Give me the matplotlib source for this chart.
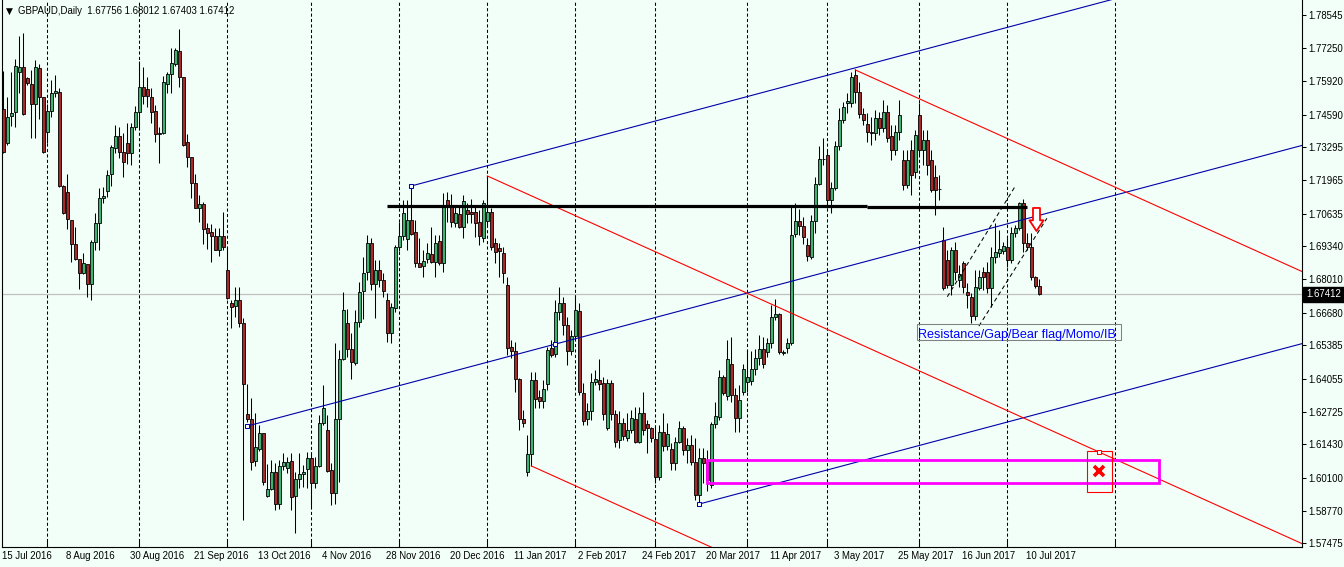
import numpy as np
import pandas as pd
import matplotlib
matplotlib.use("Agg")
import matplotlib.pyplot as plt
from matplotlib.path import Path
from matplotlib.patches import Rectangle
from matplotlib.transforms import blended_transform_factory

plt.rcParams['font.family'] = ['Liberation Sans', 'DejaVu Sans']

# ---------------- data ----------------
symbol_title = "GBPAUD,Daily"
start_date = "2016-07-15"

opens = [1.7481, 1.7344, 1.7454, 1.7468, 1.7630, 1.7647, 1.7604, 1.7580, 1.7500, 1.7643,
         1.7528, 1.7390, 1.7473, 1.7544, 1.7548, 1.7174, 1.7149, 1.7038, 1.6941, 1.6881,
         1.6826, 1.6861, 1.6782, 1.6949, 1.7025, 1.7125, 1.7155, 1.7221, 1.7324, 1.7375,
         1.7308, 1.7344, 1.7304, 1.7408, 1.7468, 1.7568, 1.7560, 1.7530, 1.7473, 1.7380,
         1.7384, 1.7580, 1.7620, 1.7659, 1.7712, 1.7608, 1.7348, 1.7288, 1.7185, 1.7085,
         1.7101, 1.7005, 1.6989, 1.6976, 1.6919, 1.6976, 1.6839, 1.6706, 1.6696, 1.6719,
         1.6626, 1.6263, 1.6243, 1.6077, 1.6125, 1.6187, 1.5937, 1.5964, 1.6034, 1.5904,
         1.6058, 1.6050, 1.6077, 1.5937, 1.6004, 1.6024, 1.6045, 1.6087, 1.5988, 1.6058,
         1.6227, 1.6200, 1.6041, 1.5948, 1.6243, 1.6482, 1.6626, 1.6522, 1.6469, 1.6630,
         1.6756, 1.6830, 1.6948, 1.6782, 1.6839, 1.6799, 1.6719, 1.6586, 1.6686, 1.6929,
         1.6974, 1.6961, 1.7038, 1.6992, 1.6865, 1.6855, 1.6881, 1.6903, 1.6872, 1.6954,
         1.6868, 1.7118, 1.7095, 1.7027, 1.7061, 1.7011, 1.7078, 1.7071, 1.7071, 1.7031,
         1.6968, 1.7035, 1.7071, 1.6945, 1.6925, 1.6905, 1.6779, 1.6530, 1.6517, 1.6403,
         1.6243, 1.6034, 1.6103, 1.6400, 1.6333, 1.6317, 1.6384, 1.6526, 1.6504, 1.6672,
         1.6708, 1.6619, 1.6517, 1.6577, 1.6675, 1.6347, 1.6244, 1.6276, 1.6393, 1.6400,
         1.6387, 1.6207, 1.6387, 1.6264, 1.6160, 1.6227, 1.6167, 1.6200, 1.6243, 1.6154,
         1.6267, 1.6224, 1.6207, 1.6163, 1.6012, 1.6194, 1.6138, 1.6123, 1.6070, 1.6154,
         1.6207, 1.6120, 1.6140, 1.6074, 1.5941, 1.6087, 1.6073, 1.5981, 1.6224, 1.6253,
         1.6411, 1.6336, 1.6464, 1.6340, 1.6248, 1.6352, 1.6392, 1.6396, 1.6443, 1.6486,
         1.6522, 1.6513, 1.6546, 1.6650, 1.6663, 1.6506, 1.6526, 1.6546, 1.6982, 1.7035,
         1.7015, 1.6938, 1.6892, 1.7035, 1.7182, 1.7280, 1.7298, 1.7118, 1.7165, 1.7333,
         1.7437, 1.7506, 1.7506, 1.7617, 1.7550, 1.7460, 1.7420, 1.7390, 1.7385, 1.7445,
         1.7405, 1.7469, 1.7373, 1.7318, 1.7389, 1.7278, 1.7178, 1.7318, 1.7230, 1.7457,
         1.7318, 1.7357, 1.7278, 1.7210, 1.7162, 1.6958, 1.6879, 1.6779, 1.6919, 1.6799,
         1.6865, 1.6750, 1.6732, 1.6656, 1.6766, 1.6830, 1.6832, 1.6768, 1.6889, 1.6908,
         1.6916, 1.6929, 1.6879, 1.6985, 1.7005, 1.7105, 1.6945, 1.6929, 1.6810, 1.67756]
highs = [1.7633, 1.7528, 1.7628, 1.7681, 1.7772, 1.7783, 1.7610, 1.7637, 1.7677, 1.7661,
         1.7530, 1.7500, 1.7597, 1.7617, 1.7564, 1.7176, 1.7222, 1.7040, 1.7009, 1.6883,
         1.6905, 1.6863, 1.6958, 1.7065, 1.7165, 1.7171, 1.7238, 1.7337, 1.7417, 1.7410,
         1.7384, 1.7426, 1.7426, 1.7493, 1.7673, 1.7650, 1.7610, 1.7564, 1.7497, 1.7410,
         1.7613, 1.7630, 1.7723, 1.7726, 1.7800, 1.7610, 1.7381, 1.7290, 1.7221, 1.7138,
         1.7111, 1.7025, 1.7022, 1.7005, 1.7005, 1.7069, 1.6925, 1.6719, 1.6772, 1.6772,
         1.6646, 1.6383, 1.6327, 1.6267, 1.6220, 1.6189, 1.6063, 1.6081, 1.6067, 1.6081,
         1.6107, 1.6094, 1.6107, 1.6034, 1.6110, 1.6061, 1.6114, 1.6114, 1.6094, 1.6260,
         1.6380, 1.6260, 1.6067, 1.6546, 1.6519, 1.6752, 1.6682, 1.6586, 1.6679, 1.6792,
         1.6889, 1.6978, 1.6965, 1.6879, 1.6879, 1.6826, 1.6746, 1.6706, 1.6938, 1.7031,
         1.7118, 1.7118, 1.7165, 1.7038, 1.6965, 1.6919, 1.6945, 1.7011, 1.6978, 1.6978,
         1.7145, 1.7151, 1.7141, 1.7091, 1.7089, 1.7138, 1.7105, 1.7121, 1.7091, 1.7078,
         1.7118, 1.7214, 1.7085, 1.6965, 1.6945, 1.6929, 1.6812, 1.6559, 1.6553, 1.6407,
         1.6280, 1.6180, 1.6433, 1.6433, 1.6360, 1.6400, 1.6533, 1.6559, 1.6719, 1.6772,
         1.6732, 1.6652, 1.6599, 1.6739, 1.6706, 1.6387, 1.6307, 1.6427, 1.6440, 1.6482,
         1.6413, 1.6403, 1.6400, 1.6280, 1.6277, 1.6247, 1.6267, 1.6280, 1.6291, 1.6293,
         1.6353, 1.6240, 1.6213, 1.6213, 1.6220, 1.6267, 1.6227, 1.6147, 1.6174, 1.6237,
         1.6216, 1.6167, 1.6180, 1.6167, 1.6127, 1.6127, 1.6120, 1.6233, 1.6313, 1.6440,
         1.6420, 1.6559, 1.6570, 1.6368, 1.6380, 1.6464, 1.6519, 1.6517, 1.6522, 1.6579,
         1.6573, 1.6566, 1.6699, 1.6722, 1.6666, 1.6519, 1.6566, 1.7091, 1.7107, 1.7081,
         1.7051, 1.6965, 1.7058, 1.7211, 1.7333, 1.7364, 1.7318, 1.7191, 1.7355, 1.7484,
         1.7510, 1.7544, 1.7630, 1.7641, 1.7589, 1.7484, 1.7464, 1.7450, 1.7477, 1.7469,
         1.7517, 1.7497, 1.7417, 1.7417, 1.7517, 1.7318, 1.7318, 1.7357, 1.7397, 1.7505,
         1.7397, 1.7397, 1.7318, 1.7258, 1.7218, 1.7011, 1.6919, 1.6932, 1.6952, 1.6859,
         1.6876, 1.6786, 1.6746, 1.6839, 1.6839, 1.6852, 1.6872, 1.6932, 1.7025, 1.6998,
         1.6952, 1.6965, 1.7011, 1.7018, 1.7111, 1.7121, 1.6985, 1.6985, 1.6815, 1.68012]
lows = [1.7306, 1.7337, 1.7413, 1.7410, 1.7546, 1.7457, 1.7577, 1.7364, 1.7364, 1.7441,
        1.7306, 1.7347, 1.7450, 1.7530, 1.7169, 1.7063, 1.7001, 1.6872, 1.6879, 1.6762,
        1.6824, 1.6732, 1.6719, 1.6919, 1.6919, 1.7105, 1.7131, 1.7175, 1.7304, 1.7284,
        1.7209, 1.7262, 1.7258, 1.7397, 1.7397, 1.7501, 1.7488, 1.7424, 1.7351, 1.7264,
        1.7380, 1.7544, 1.7546, 1.7654, 1.7570, 1.7333, 1.7251, 1.7127, 1.7085, 1.7031,
        1.6942, 1.6923, 1.6869, 1.6917, 1.6896, 1.6919, 1.6724, 1.6606, 1.6652, 1.6610,
        1.5841, 1.6232, 1.6041, 1.6058, 1.6117, 1.5981, 1.5934, 1.5961, 1.5881, 1.5884,
        1.6041, 1.6028, 1.5881, 1.5788, 1.5968, 1.5974, 1.5968, 1.5888, 1.5968, 1.6054,
        1.6220, 1.6034, 1.5901, 1.5904, 1.5994, 1.6480, 1.6493, 1.6403, 1.6460, 1.6612,
        1.6642, 1.6799, 1.6759, 1.6646, 1.6772, 1.6732, 1.6553, 1.6546, 1.6672, 1.6916,
        1.6958, 1.6919, 1.6978, 1.6852, 1.6850, 1.6810, 1.6865, 1.6868, 1.6810, 1.6859,
        1.6832, 1.7031, 1.7011, 1.7011, 1.7005, 1.6965, 1.7025, 1.7025, 1.6969, 1.6938,
        1.6950, 1.7018, 1.6919, 1.6865, 1.6812, 1.6786, 1.6500, 1.6486, 1.6353, 1.6200,
        1.6213, 1.6017, 1.6057, 1.6287, 1.6288, 1.6287, 1.6360, 1.6493, 1.6493, 1.6639,
        1.6579, 1.6460, 1.6500, 1.6559, 1.6340, 1.6220, 1.6220, 1.6240, 1.6380, 1.6360,
        1.6240, 1.6200, 1.6240, 1.6134, 1.6127, 1.6160, 1.6156, 1.6188, 1.6147, 1.6148,
        1.6180, 1.6110, 1.6154, 1.5988, 1.6001, 1.6117, 1.6120, 1.6041, 1.6041, 1.6148,
        1.6101, 1.6070, 1.6061, 1.5921, 1.5907, 1.5988, 1.5957, 1.5968, 1.6208, 1.6240,
        1.6340, 1.6320, 1.6312, 1.6192, 1.6192, 1.6340, 1.6352, 1.6380, 1.6420, 1.6460,
        1.6448, 1.6492, 1.6527, 1.6639, 1.6504, 1.6500, 1.6506, 1.6539, 1.6972, 1.6978,
        1.6941, 1.6876, 1.6883, 1.6985, 1.7178, 1.7258, 1.7085, 1.7065, 1.7158, 1.7318,
        1.7424, 1.7464, 1.7490, 1.7504, 1.7445, 1.7417, 1.7351, 1.7337, 1.7357, 1.7377,
        1.7389, 1.7349, 1.7278, 1.7298, 1.7357, 1.7158, 1.7166, 1.7138, 1.7206, 1.7298,
        1.7258, 1.7218, 1.7150, 1.7058, 1.7118, 1.6759, 1.6766, 1.6739, 1.6799, 1.6772,
        1.6746, 1.6686, 1.6626, 1.6639, 1.6759, 1.6759, 1.6746, 1.6692, 1.6865, 1.6892,
        1.6903, 1.6852, 1.6865, 1.6972, 1.6998, 1.6912, 1.6919, 1.6799, 1.6767, 1.67403]
closes = [1.7310, 1.7450, 1.7464, 1.7653, 1.7647, 1.7461, 1.7584, 1.7500, 1.7647, 1.7528,
          1.7308, 1.7473, 1.7544, 1.7553, 1.7175, 1.7065, 1.7041, 1.6941, 1.6881, 1.6826,
          1.6865, 1.6782, 1.6952, 1.7025, 1.7125, 1.7135, 1.7218, 1.7328, 1.7375, 1.7308,
          1.7271, 1.7304, 1.7408, 1.7468, 1.7568, 1.7534, 1.7534, 1.7470, 1.7380, 1.7384,
          1.7588, 1.7620, 1.7663, 1.7716, 1.7608, 1.7337, 1.7288, 1.7185, 1.7087, 1.7101,
          1.7001, 1.6985, 1.6976, 1.6919, 1.6976, 1.6932, 1.6726, 1.6692, 1.6719, 1.6626,
          1.6383, 1.6243, 1.6071, 1.6134, 1.6187, 1.5992, 1.5964, 1.6034, 1.5904, 1.6058,
          1.6071, 1.6071, 1.5932, 1.6004, 1.6025, 1.6034, 1.6087, 1.5988, 1.6058, 1.6227,
          1.6289, 1.6037, 1.5948, 1.6243, 1.6482, 1.6679, 1.6522, 1.6473, 1.6630, 1.6752,
          1.6826, 1.6945, 1.6782, 1.6839, 1.6799, 1.6756, 1.6586, 1.6692, 1.6929, 1.6974,
          1.7067, 1.7038, 1.6982, 1.6865, 1.6852, 1.6876, 1.6905, 1.6872, 1.6945, 1.6868,
          1.7098, 1.7098, 1.7029, 1.7065, 1.7011, 1.7115, 1.7062, 1.7061, 1.7027, 1.6974,
          1.7105, 1.7071, 1.6929, 1.6912, 1.6916, 1.6828, 1.6526, 1.6517, 1.6403, 1.6243,
          1.6229, 1.6103, 1.6400, 1.6323, 1.6317, 1.6363, 1.6519, 1.6500, 1.6672, 1.6708,
          1.6619, 1.6517, 1.6577, 1.6679, 1.6353, 1.6237, 1.6276, 1.6391, 1.6404, 1.6383,
          1.6263, 1.6387, 1.6264, 1.6154, 1.6227, 1.6178, 1.6200, 1.6247, 1.6154, 1.6267,
          1.6200, 1.6207, 1.6167, 1.6012, 1.6194, 1.6138, 1.6183, 1.6070, 1.6154, 1.6207,
          1.6120, 1.6140, 1.6074, 1.5941, 1.6087, 1.6067, 1.6001, 1.6224, 1.6257, 1.6411,
          1.6349, 1.6482, 1.6340, 1.6248, 1.6320, 1.6443, 1.6413, 1.6443, 1.6486, 1.6522,
          1.6464, 1.6546, 1.6650, 1.6663, 1.6510, 1.6510, 1.6546, 1.6978, 1.7035, 1.7015,
          1.6972, 1.6896, 1.7035, 1.7182, 1.7280, 1.7282, 1.7118, 1.7165, 1.7333, 1.7437,
          1.7490, 1.7514, 1.7610, 1.7550, 1.7460, 1.7437, 1.7388, 1.7384, 1.7445, 1.7405,
          1.7469, 1.7365, 1.7318, 1.7389, 1.7457, 1.7178, 1.7278, 1.7218, 1.7377, 1.7318,
          1.7357, 1.7258, 1.7158, 1.7158, 1.7160, 1.6766, 1.6779, 1.6919, 1.6832, 1.6823,
          1.6772, 1.6739, 1.6656, 1.6772, 1.6812, 1.6812, 1.6768, 1.6889, 1.6912, 1.6921,
          1.6935, 1.6879, 1.6985, 1.7005, 1.7105, 1.6945, 1.6929, 1.6810, 1.6776, 1.67412]

date_labels = ["15 Jul 2016", "8 Aug 2016", "30 Aug 2016", "21 Sep 2016", "13 Oct 2016",
               "4 Nov 2016", "28 Nov 2016", "20 Dec 2016", "11 Jan 2017", "2 Feb 2017",
               "24 Feb 2017", "20 Mar 2017", "11 Apr 2017", "3 May 2017", "25 May 2017",
               "16 Jun 2017", "10 Jul 2017"]
label_step = 16
price_ticks = [1.78545, 1.77250, 1.75920, 1.74590, 1.73295, 1.71965, 1.70635, 1.69340,
               1.68010, 1.66680, 1.65385, 1.64055, 1.62725, 1.61430, 1.60100, 1.58770,
               1.57475]
future_grid_dates = ["2017-08-01"]

# drawing objects (bar index, price)
resistance_segments = [((96, 1.7096), (216, 1.7096)), ((216, 1.7090), (256, 1.7090))]
blue_base = ((61, 1.6216), (138, 1.6543))
blue_parallel_starts = [(102, 1.7174), (174, 1.5905)]
red_base = ((121, 1.7214), (274, 1.6112))
red_parallel_starts = [(213, 1.7637), (132, 1.6057)]
flag_lines = [((236, 1.6732), (252.9, 1.7171)), ((243.9, 1.6615), (260.9, 1.7045))]
zone_rect = (176, 289, 1.5988, 1.6081)
target_rect = (271, 277.1, 1.5954, 1.6115)
target_mark = (274, 1.6037)
arrow_at = (258.25, 1.7041)
note_text = "Resistance/Gap/Bear flag/Momo/IB"
note_anchor = (228.8, 1.6567)
note_box = (228.4, 279.4, 1.6559, 1.6622)

# ---------------- style ----------------
BG = '#F2FFF8'
BULL = '#3CB371'
BEAR = '#A52A2A'
NAVY = '#0000A8'
RED = '#FF0000'
MAG = '#FF00FF'
FS = 6.9

W, H = 1344, 567
ax_l, ax_r, ax_t, ax_b = 2, 1301.5, 0, 547
first_bar_px, px_per_bar = 3.3, 4.0
ymax, per_px = 1.7916, 0.000399

fig = plt.figure(figsize=(W / 100, H / 100), dpi=100, facecolor=BG)
ax = fig.add_axes([ax_l / W, 1 - ax_b / H, (ax_r - ax_l) / W, (ax_b - ax_t) / H])
ax.set_facecolor(BG)
x0 = (ax_l - first_bar_px) / px_per_bar
x1 = (ax_r - first_bar_px) / px_per_bar
ax.set_xlim(x0, x1)
ax.set_ylim(ymax - per_px * (ax_b - ax_t), ymax)

o = np.array(opens); h = np.array(highs); l = np.array(lows); c = np.array(closes)
n = len(o)
idx = np.arange(n)
dates = pd.bdate_range(start_date, periods=n)

# month separators
month_idx = [i for i in range(1, n) if dates[i].month != dates[i - 1].month]
for fd in future_grid_dates:
    month_idx.append(n - 1 + (pd.Timestamp(fd) - dates[-1]).days)
for mi in month_idx:
    ax.axvline(mi, color='black', lw=0.75, linestyle=(0, (3, 2.2)), zorder=1)

# current price line
ax.axhline(closes[-1], color='#C0C0C0', lw=0.9, zorder=1.5)

# candles
up = c >= o
body_lo = np.minimum(o, c)
body_h = np.maximum(np.abs(c - o), 0.00022)
ax.vlines(idx, l, h, color='black', lw=0.75, zorder=3)
ax.bar(idx, body_h, bottom=body_lo, width=0.74, color=np.where(up, BULL, BEAR),
       edgecolor='black', linewidth=0.6, zorder=4)


def ray(p0, slope, color):
    xs = np.array([p0[0], x1 + 2])
    ax.plot(xs, p0[1] + slope * (xs - p0[0]), color=color, lw=0.8, zorder=5)


# blue channel
bslope = (blue_base[1][1] - blue_base[0][1]) / (blue_base[1][0] - blue_base[0][0])
ray(blue_base[0], bslope, NAVY)
for p in blue_parallel_starts:
    ray(p, bslope, NAVY)
# red channel
rslope = (red_base[1][1] - red_base[0][1]) / (red_base[1][0] - red_base[0][0])
ray(red_base[0], rslope, RED)
for p in red_parallel_starts:
    ray(p, rslope, RED)

# resistance line
for (a, b) in resistance_segments:
    ax.plot([a[0], b[0]], [a[1], b[1]], color='black', lw=2.3, solid_capstyle='butt', zorder=6)

# bear flag lines
for (a, b) in flag_lines:
    ax.plot([a[0], b[0]], [a[1], b[1]], color='black', lw=0.75, linestyle=(0, (4, 3)), zorder=5)

# zone rectangles
ax.add_patch(Rectangle((zone_rect[0], zone_rect[2]), zone_rect[1] - zone_rect[0],
                       zone_rect[3] - zone_rect[2], fill=False, edgecolor=MAG, lw=2.0, zorder=6))
ax.add_patch(Rectangle((target_rect[0], target_rect[2]), target_rect[1] - target_rect[0],
                       target_rect[3] - target_rect[2], fill=False, edgecolor=RED, lw=0.8, zorder=6))
ax.plot([target_mark[0]], [target_mark[1]], marker='x', ms=7.5, mew=2.6, color=RED, zorder=7)

# anchor squares
for p in [blue_base[0], blue_base[1]] + blue_parallel_starts:
    ax.plot([p[0]], [p[1]], marker='s', ms=3.3, mfc='white', mec=NAVY, mew=0.75, zorder=7)
ax.plot([red_base[1][0]], [red_base[1][1]], marker='s', ms=3.3, mfc='white', mec=RED, mew=0.75, zorder=7)

# down arrow
av = [(-3.5, 11.5), (3.5, 11.5), (3.5, -0.8), (7, -0.8), (0, -11.5), (-7, -0.8), (-3.5, -0.8), (-3.5, 11.5)]
arrow_path = Path(av, [Path.MOVETO] + [Path.LINETO] * 6 + [Path.CLOSEPOLY])
ax.plot([arrow_at[0]], [arrow_at[1]], marker=arrow_path, ms=16.6, mfc='white', mec=RED, mew=1.3, zorder=8)

# note text
ax.add_patch(Rectangle((note_box[0], note_box[2]), note_box[1] - note_box[0], note_box[3] - note_box[2],
                       fill=False, edgecolor='#808080', lw=0.75, zorder=7))
ax.text(note_anchor[0], note_anchor[1], note_text, color='#0000FF', fontsize=9.1,
        ha='left', va='baseline', zorder=8)

# axes styling
ax.spines['top'].set_visible(False)
for s in ['left', 'right', 'bottom']:
    ax.spines[s].set_linewidth(0.8)
    ax.spines[s].set_color('black')
ax.yaxis.tick_right()
ax.set_yticks(price_ticks)
ax.set_yticklabels([f"{v:.5f}" for v in price_ticks])
ax.tick_params(axis='y', direction='out', length=3.2, width=0.75, pad=1.5, labelsize=FS, colors='black')
ax.set_xticks(month_idx)
ax.tick_params(axis='x', direction='in', length=4, width=0.75, labelbottom=False)

# date labels
tr = blended_transform_factory(ax.transData, fig.transFigure)
for k, lab in enumerate(date_labels):
    ax.text(k * label_step - 0.35, 1 - 559 / H, lab, transform=tr, fontsize=FS,
            ha='left', va='baseline', clip_on=False)

# current price box
tr2 = blended_transform_factory(fig.transFigure, ax.transData)
ax.text(1306 / W, closes[-1], f"{closes[-1]:.5f}", transform=tr2, fontsize=FS, color='white',
        ha='left', va='center', clip_on=False, zorder=10,
        bbox=dict(boxstyle='square,pad=0.3', facecolor='black', edgecolor='black'))

# header
fig.text(6 / W, 1 - 14 / H, "\u25BC", fontsize=6.5, ha='left', va='baseline', color='black',
         family=['DejaVu Sans'])
fig.text(18 / W, 1 - 14 / H, f"{symbol_title}  {opens[-1]:.5f} {highs[-1]:.5f} {lows[-1]:.5f} {closes[-1]:.5f}",
         fontsize=FS, ha='left', va='baseline', color='black')

fig.savefig('out.png', dpi=100, facecolor=BG)
